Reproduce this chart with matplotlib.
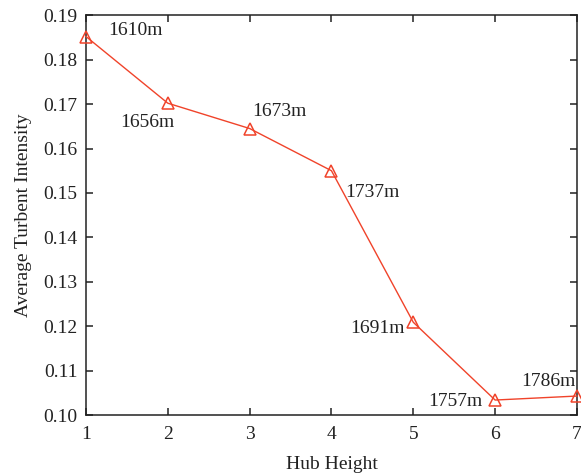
import matplotlib
matplotlib.use('Agg')
from matplotlib import pyplot as plt

hub = [1, 2, 3, 4, 5, 6, 7]
intensity = [0.1852, 0.1702, 0.1645, 0.1550, 0.1209, 0.1034, 0.1043]
labels = ['1610m', '1656m', '1673m', '1737m', '1691m', '1757m', '1786m']

# label offsets (pixels) and alignment
offsets = [(22, 6), (-20, -19), (3, 17), (14, -22), (-9, -6), (-13, -1), (-1, 15)]
aligns = ['left', 'center', 'left', 'left', 'right', 'right', 'right']

plt.rcParams['font.family'] = ['Liberation Serif', 'DejaVu Serif']
plt.rcParams['font.size'] = 14

fig = plt.figure(figsize=(5.81, 4.75), dpi=100)
ax = fig.add_axes([0.148, 0.126, 0.845, 0.842])
red = '#f0432a'
ax.plot(hub, intensity, color=red, lw=1.0, marker='^', ms=8.5,
        markerfacecolor='none', markeredgecolor=red, markeredgewidth=1.1, clip_on=False, zorder=3)

for x, y, t, off, ha in zip(hub, intensity, labels, offsets, aligns):
    ax.annotate(t, (x, y), xytext=off, textcoords='offset pixels', ha=ha, va='center',
                fontsize=14, color='#222222')

ax.set_xlim(1, 7)
ax.set_ylim(0.10, 0.19)
ax.set_xticks(hub)
ax.set_yticks([0.10, 0.11, 0.12, 0.13, 0.14, 0.15, 0.16, 0.17, 0.18, 0.19])
ax.set_yticklabels(['%.2f' % v for v in ax.get_yticks()])
ax.tick_params(direction='in', top=True, right=True, length=5, width=1.1, colors='#222222',
               labelsize=14, pad=6)
ax.tick_params(axis='x', pad=8)
for s in ax.spines.values():
    s.set_linewidth(1.1)
    s.set_color('#222222')
ax.set_xlabel('Hub Height', fontsize=14, labelpad=9, color='#222222')
ax.set_ylabel('Average Turbent Intensity', fontsize=14, labelpad=8, color='#222222')

fig.savefig('out.png', dpi=100)
